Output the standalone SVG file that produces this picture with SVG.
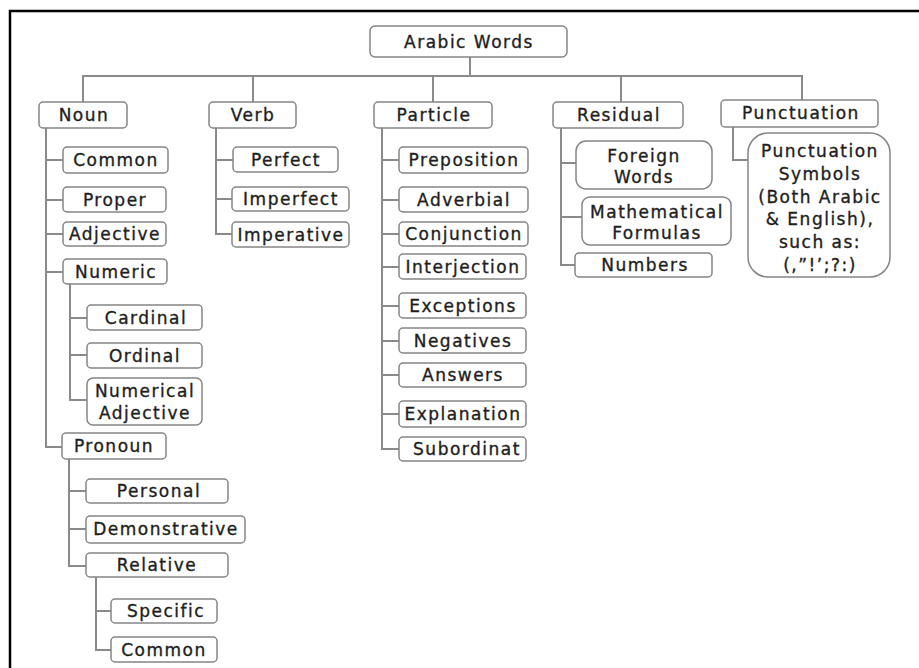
<svg xmlns="http://www.w3.org/2000/svg" width="919" height="668" viewBox="0 0 919 668">
<style>
.box{fill:#fff;stroke:#858585;stroke-width:1.5}
.t{font-family:"DejaVu Sans","Liberation Sans",sans-serif;font-size:17px;letter-spacing:1.5px;fill:#1e1e1e;stroke:#1e1e1e;stroke-width:0.35;text-anchor:middle}
.c{fill:none;stroke:#8a8a8a;stroke-width:2}
.frame{fill:none;stroke:#000;stroke-width:2.5}
</style>
<rect width="919" height="668" fill="#fff"/>
<path class="frame" d="M10,668 V11 H919"/>
<g id="connectors">
<path class="c" d="M470,57 V76 M83,102 V76 H802 V100 M253,76 V102 M433,76 V102 M621,76 V102"/>
<path class="c" d="M46,128 V447 H62 M46,160 H63 M46,200 H63 M46,234 H63 M46,272 H63"/>
<path class="c" d="M70,284 V400 H87 M70,318 H87 M70,355 H87"/>
<path class="c" d="M69,459 V566 H86 M69,491 H86 M69,529 H86"/>
<path class="c" d="M96,577 V650 H111 M96,611 H111"/>
<path class="c" d="M216,128 V234 H232 M216,160 H233 M216,199 H232"/>
<path class="c" d="M382,128 V449 H399 M382,160 H399 M382,200 H399 M382,234 H399 M382,267 H399 M382,306 H399 M382,341 H399 M382,375 H399 M382,414 H399"/>
<path class="c" d="M561,127 V265 H575 M561,163 H576 M561,217 H582"/>
<path class="c" d="M733,127 V160 H748"/>
</g>
<g id="root"><rect class="box" x="370" y="26" width="197" height="31" rx="5"/><text class="t" x="469" y="48">Arabic Words</text></g>
<g id="noun"><rect class="box" x="39" y="102" width="88" height="26" rx="4"/><text class="t" x="84" y="121">Noun</text></g>
<g id="verb"><rect class="box" x="209" y="102" width="87" height="26" rx="4"/><text class="t" x="253" y="121">Verb</text></g>
<g id="particle"><rect class="box" x="374" y="102" width="118" height="26" rx="4"/><text class="t" x="434" y="121">Particle</text></g>
<g id="residual"><rect class="box" x="553" y="102" width="130" height="26" rx="4"/><text class="t" x="619" y="121">Residual</text></g>
<g id="punctuation"><rect class="box" x="721" y="100" width="157" height="27" rx="4"/><text class="t" x="801" y="119">Punctuation</text></g>
<g id="noun-common"><rect class="box" x="63" y="147" width="105" height="26" rx="4"/><text class="t" x="116" y="166">Common</text></g>
<g id="proper"><rect class="box" x="63" y="187" width="103" height="25" rx="4"/><text class="t" x="115" y="206">Proper</text></g>
<g id="adjective"><rect class="box" x="63" y="222" width="103" height="24" rx="4"/><text class="t" x="115" y="240">Adjective</text></g>
<g id="numeric"><rect class="box" x="63" y="259" width="104" height="25" rx="4"/><text class="t" x="116" y="278">Numeric</text></g>
<g id="cardinal"><rect class="box" x="87" y="305" width="115" height="25" rx="4"/><text class="t" x="146" y="324">Cardinal</text></g>
<g id="ordinal"><rect class="box" x="87" y="343" width="115" height="25" rx="4"/><text class="t" x="145" y="362">Ordinal</text></g>
<g id="numerical-adjective"><rect class="box" x="87" y="378" width="115" height="47" rx="6"/><text class="t" x="145" y="397">Numerical</text><text class="t" x="145" y="419">Adjective</text></g>
<g id="pronoun"><rect class="box" x="62" y="433" width="104" height="26" rx="4"/><text class="t" x="114" y="452">Pronoun</text></g>
<g id="personal"><rect class="box" x="86" y="479" width="142" height="24" rx="4"/><text class="t" x="159" y="497">Personal</text></g>
<g id="demonstrative"><rect class="box" x="86" y="516" width="159" height="27" rx="4"/><text class="t" x="166" y="535">Demonstrative</text></g>
<g id="relative"><rect class="box" x="86" y="553" width="142" height="24" rx="4"/><text class="t" x="157" y="571">Relative</text></g>
<g id="specific"><rect class="box" x="111" y="599" width="106" height="24" rx="4"/><text class="t" x="166" y="617">Specific</text></g>
<g id="relative-common"><rect class="box" x="111" y="637" width="106" height="25" rx="4"/><text class="t" x="164" y="656">Common</text></g>
<g id="perfect"><rect class="box" x="233" y="147" width="105" height="25" rx="4"/><text class="t" x="286" y="166">Perfect</text></g>
<g id="imperfect"><rect class="box" x="232" y="187" width="117" height="24" rx="4"/><text class="t" x="291" y="205">Imperfect</text></g>
<g id="imperative"><rect class="box" x="232" y="222" width="117" height="25" rx="4"/><text class="t" x="291" y="241">Imperative</text></g>
<g id="preposition"><rect class="box" x="399" y="147" width="129" height="26" rx="4"/><text class="t" x="464" y="166">Preposition</text></g>
<g id="adverbial"><rect class="box" x="399" y="187" width="129" height="25" rx="4"/><text class="t" x="464" y="206">Adverbial</text></g>
<g id="conjunction"><rect class="box" x="399" y="222" width="129" height="24" rx="4"/><text class="t" x="464" y="240">Conjunction</text></g>
<g id="interjection"><rect class="box" x="399" y="254" width="127" height="25" rx="4"/><text class="t" x="463" y="273">Interjection</text></g>
<g id="exceptions"><rect class="box" x="399" y="293" width="127" height="25" rx="4"/><text class="t" x="463" y="312">Exceptions</text></g>
<g id="negatives"><rect class="box" x="399" y="328" width="127" height="25" rx="4"/><text class="t" x="463" y="347">Negatives</text></g>
<g id="answers"><rect class="box" x="399" y="363" width="127" height="24" rx="4"/><text class="t" x="463" y="381">Answers</text></g>
<g id="explanation"><rect class="box" x="399" y="401" width="127" height="26" rx="4"/><text class="t" x="463" y="420">Explanation</text></g>
<g id="subordinat"><rect class="box" x="399" y="437" width="127" height="24" rx="4"/><text class="t" x="467" y="455">Subordinat</text></g>
<g id="foreign-words"><rect class="box" x="576" y="141" width="136" height="48" rx="10"/><text class="t" x="644" y="162">Foreign</text><text class="t" x="644" y="183">Words</text></g>
<g id="mathematical-formulas"><rect class="box" x="582" y="197" width="149" height="48" rx="8"/><text class="t" x="657" y="218">Mathematical</text><text class="t" x="657" y="239">Formulas</text></g>
<g id="numbers"><rect class="box" x="575" y="253" width="137" height="24" rx="4"/><text class="t" x="645" y="271">Numbers</text></g>
<g id="punctuation-symbols"><rect class="box" x="748" y="133" width="142" height="144" rx="20"/>
<text class="t" x="820" y="157">Punctuation</text>
<text class="t" x="820" y="180">Symbols</text>
<text class="t" x="820" y="203">(Both Arabic</text>
<text class="t" x="820" y="225">&amp; English),</text>
<text class="t" x="820" y="248">such as:</text>
<text class="t" x="820" y="271">(,”!’;?:)</text>
</g>
</svg>
